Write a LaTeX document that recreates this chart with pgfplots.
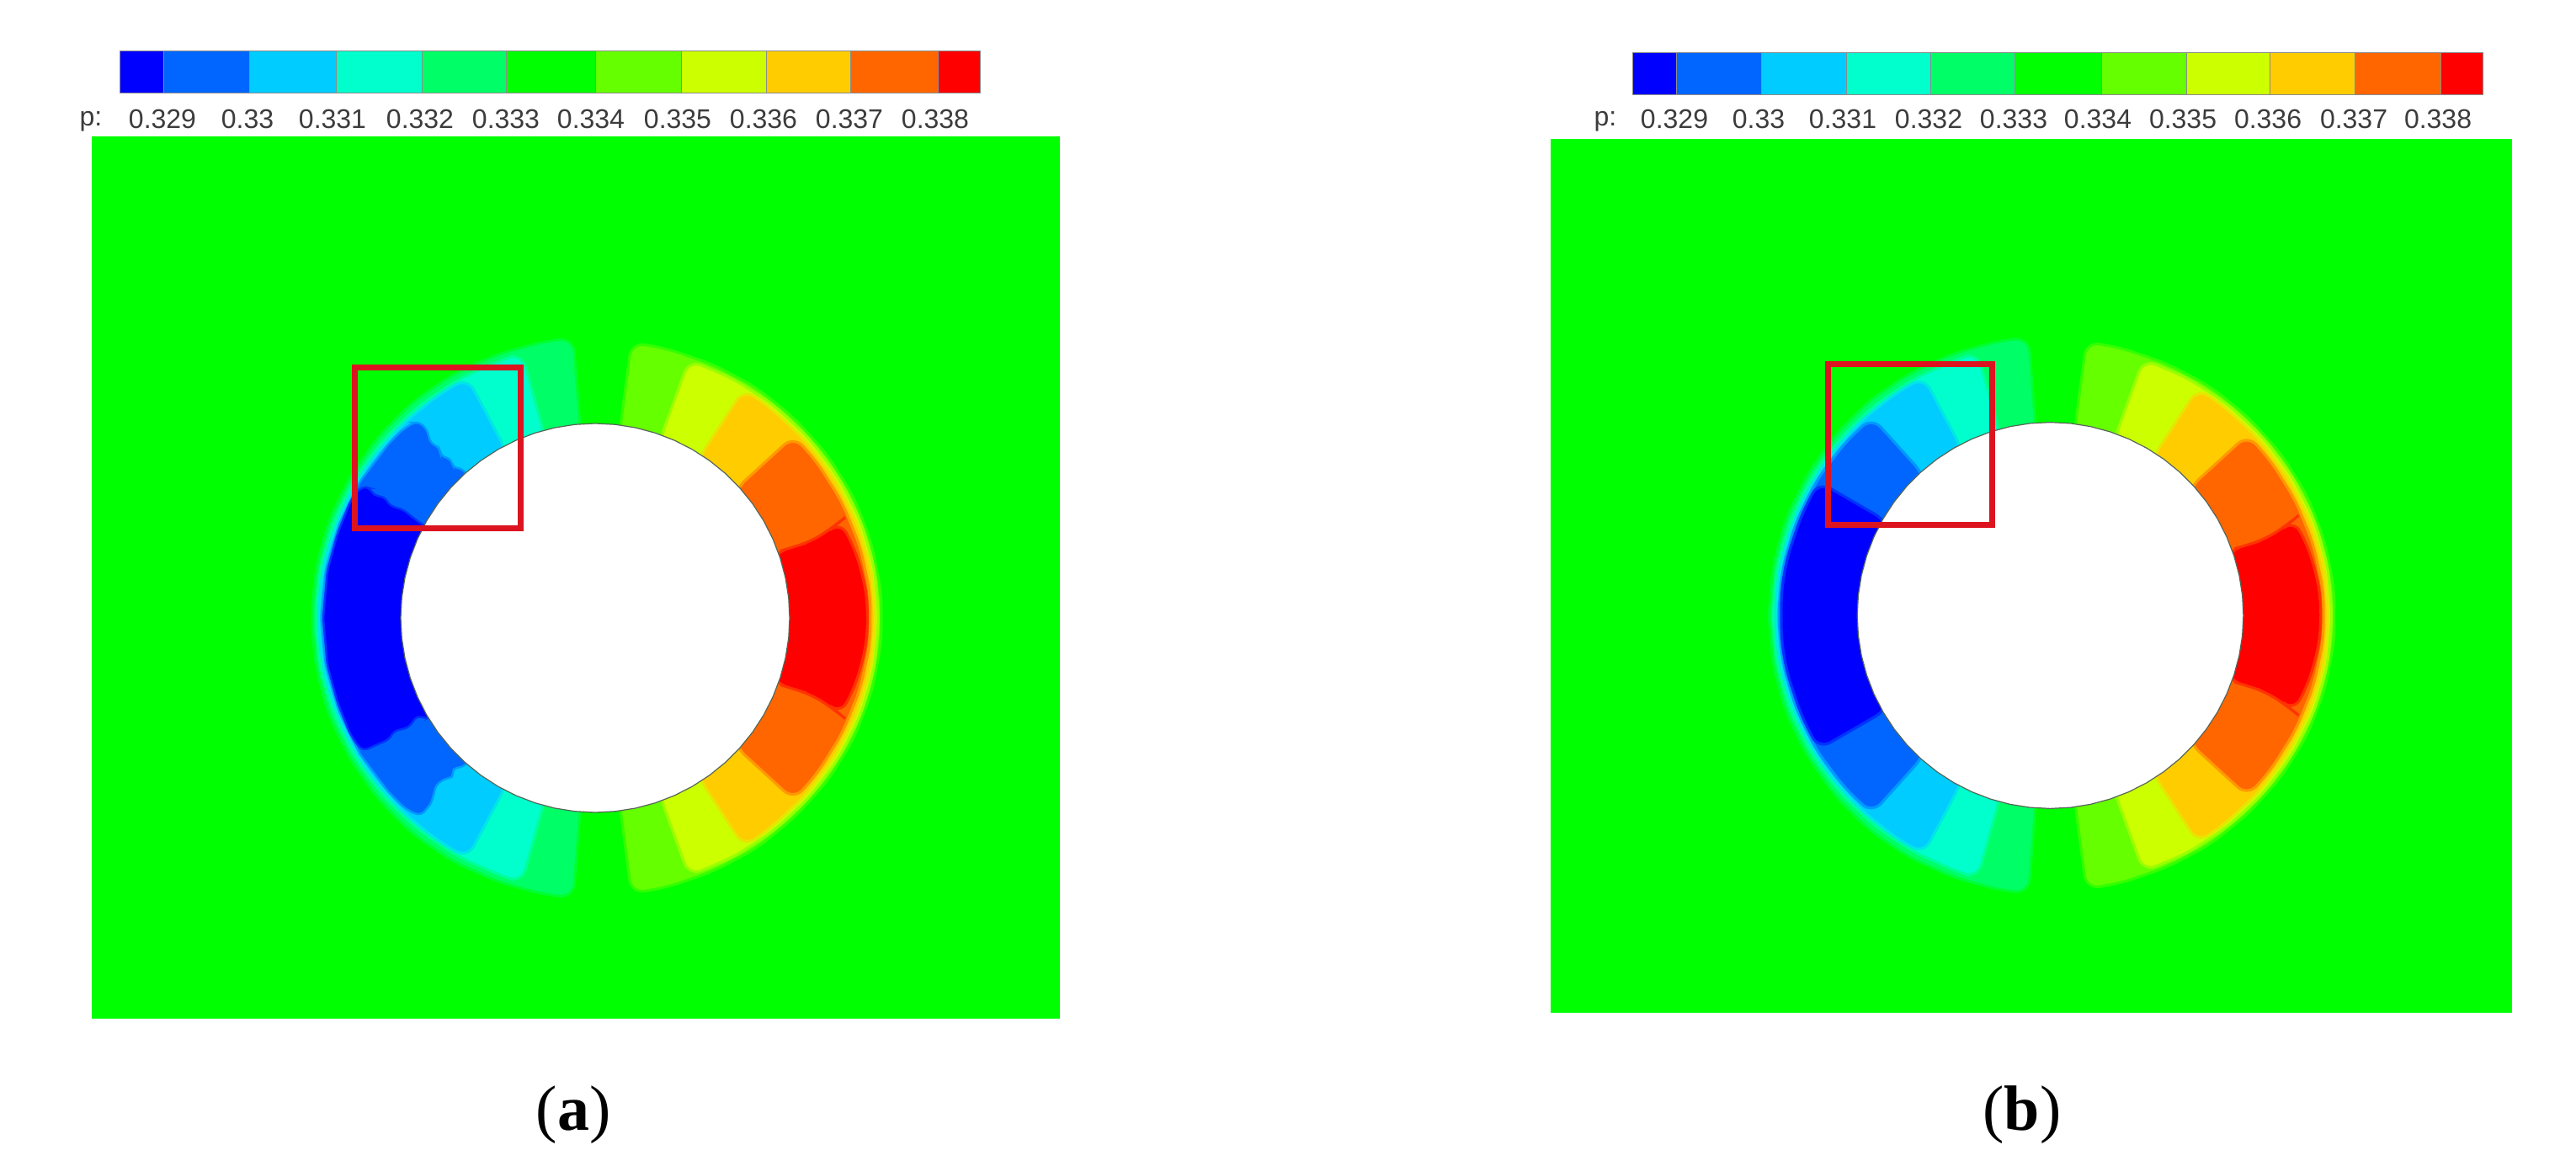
\documentclass[border=0pt]{standalone}
\usepackage{fontspec}
\setmainfont{Liberation Sans}
\newfontfamily\capfont{Liberation Serif}
\usepackage{pgfplots}
\usepackage{pgfplotstable}
\pgfplotsset{compat=1.18}
\usepgfplotslibrary{polar}
\definecolor{c0}{HTML}{0000FF}
\definecolor{c1}{HTML}{0066FF}
\definecolor{c2}{HTML}{00CCFF}
\definecolor{c3}{HTML}{00FFCC}
\definecolor{c4}{HTML}{00FF66}
\definecolor{c5}{HTML}{00FF00}
\definecolor{c6}{HTML}{66FF00}
\definecolor{c7}{HTML}{CCFF00}
\definecolor{c8}{HTML}{FFCC00}
\definecolor{c9}{HTML}{FF6600}
\definecolor{c10}{HTML}{FF0000}
\definecolor{redbox}{HTML}{DC1420}
\definecolor{rim}{HTML}{566656}
\definecolor{lab}{HTML}{3C3C3C}
\pgfplotsset{
  page/.style={at={(0pt,0pt)},anchor=south west,width=765pt,height=346pt,scale only axis,hide axis},
  pix/.style={page,xmin=0,xmax=3060,ymin=0,ymax=1384,y dir=reverse},
  lev/.style 2 args={data cs=polar,fill=#1,draw=#1!50!#2,line width=0.8pt,rounded corners=4pt},
  jag/.style 2 args={data cs=polar,fill=#1,draw=#1!50!#2,line width=0.6pt,rounded corners=1.2pt},
  bar/.style={fill=#1,draw=black!45,line width=0.25pt}
}
\tikzset{num/.style={font=\fontsize{8}{8}\selectfont,text=lab,inner sep=0pt,anchor=center}}
% ---- nested contour regions: t = polar angle (deg), r = radius (px)
\pgfplotstableread[row sep=\\]{t r\\ 94.5 225\\ 94.5 333\\ 100 334\\ 110 334\\ 120 335\\ 130 336\\ 140 336\\ 150 336\\ 160 337\\ 170 337\\ 180 337\\ 190 337\\ 200 337\\ 210 336\\ 220 336\\ 230 336\\ 240 335\\ 250 334\\ 260 334\\ 265.5 333\\ 265.5 225\\}\Lzero
\pgfplotstableread[row sep=\\]{t r\\ 105.5 225\\ 105.5 326\\ 110 326\\ 120 327\\ 130 328\\ 140 329\\ 150 330\\ 160 331\\ 170 332\\ 180 332\\ 190 332\\ 200 331\\ 210 330\\ 220 329\\ 230 328\\ 240 327\\ 250 326\\ 254.5 326\\ 254.5 225\\}\Lone
\pgfplotstableread[row sep=\\]{t r\\ 118 225\\ 118 323\\ 125 324\\ 135 325\\ 145 326\\ 155 327\\ 165 328\\ 172 329\\ 180 329\\ 188 329\\ 195 328\\ 205 327\\ 215 326\\ 225 325\\ 235 324\\ 242 323\\ 242 225\\}\Ltwo
\pgfplotstableread[row sep=\\]{t r\\ 132 225\\ 132 319\\ 140 321\\ 150 323\\ 160 324\\ 170 325\\ 180 325.5\\ 190 325\\ 200 324\\ 210 323\\ 220 321\\ 228 319\\ 228 225\\}\Lthree
\pgfplotstableread[row sep=\\]{t r\\ 150 225\\ 150 320\\ 158 321\\ 168 322.5\\ 175 323\\ 185 323\\ 192 322.5\\ 202 321\\ 210 320\\ 210 225\\}\Lfour
% jagged versions of panel (a)
\pgfplotstableread[row sep=\\]{t r\\ 131.8 225\\ 131.8 238\\ 133.4 246\\ 132.3 254\\ 133.6 267\\ 132.5 273\\ 133.2 286\\ 131.8 300\\ 131.9 312\\ 133 317\\ 136 320\\ 140 321\\ 150 323\\ 160 324\\ 170 325\\ 180 325.5\\ 190 325\\ 200 324\\ 210 323\\ 220 321\\ 224.5 320\\ 227 317\\ 228.6 312\\ 228.5 294\\ 226.4 274\\ 226.8 263\\ 228.3 253\\ 226.6 247\\ 228.5 235\\ 228.5 225\\}\Lthreea
\pgfplotstableread[row sep=\\]{t r\\ 151.5 225\\ 151.6 235\\ 150.6 262\\ 151.3 277\\ 150.2 289\\ 151 300\\ 150.1 309\\ 150.4 316\\ 152 320.5\\ 155 322\\ 162 322\\ 170 323\\ 180 323\\ 190 323\\ 198 322\\ 205 322\\ 208 320.5\\ 209.8 317\\ 210.5 285\\ 209.4 274\\ 210.4 257\\ 208.8 241\\ 210.8 234\\ 211 225\\}\Lfoura
% right side
\pgfplotstableread[row sep=\\]{t r\\ 82.5 225\\ 82.5 330\\ 75 331\\ 65 332\\ 55 334\\ 45 335\\ 35 337\\ 25 339\\ 15 340\\ 5 341\\ -5 341\\ -15 340\\ -25 339\\ -35 337\\ -45 335\\ -55 334\\ -65 332\\ -75 331\\ -82.5 330\\ -82.5 225\\}\Rzero
\pgfplotstableread[row sep=\\]{t r\\ 70 225\\ 70 326\\ 60 328\\ 50 330\\ 40 332\\ 30 334\\ 20 336\\ 10 337\\ 0 337\\ -10 337\\ -20 336\\ -30 334\\ -40 332\\ -50 330\\ -60 328\\ -70 326\\ -70 225\\}\Rone
\pgfplotstableread[row sep=\\]{t r\\ 57 225\\ 57 324\\ 50 325\\ 40 327\\ 30 329\\ 20 331\\ 10 333\\ 0 333\\ -10 333\\ -20 331\\ -30 329\\ -40 327\\ -50 325\\ -57 324\\ -57 225\\}\Rtwo
\pgfplotstableread[row sep=\\]{t r\\ 42.5 225\\ 42.5 320\\ 35 322\\ 25 324\\ 15 326\\ 5 328\\ -5 328\\ -15 326\\ -25 324\\ -35 322\\ -42.5 320\\ -42.5 225\\}\Rthree
\pgfplotstableread[row sep=\\]{t r\\ 20 225\\ 19.7 250\\ 19.5 273\\ 21 305\\ 21.5 313\\ 15 319\\ 8 322.5\\ 3 324\\ -3 324\\ -8 322.5\\ -15 319\\ -21.5 313\\ -21 305\\ -19.5 273\\ -19.7 250\\ -20 225\\}\Rfour
\pgfplotstableread[row sep=\\]{t r\\ 0 231\\ 6 231\\ 12 231\\ 18 231\\ 24 231\\ 30 231\\ 36 231\\ 42 231\\ 48 231\\ 54 231\\ 60 231\\ 66 231\\ 72 231\\ 78 231\\ 84 231\\ 90 231\\ 96 231\\ 102 231\\ 108 231\\ 114 231\\ 120 231\\ 126 231\\ 132 231\\ 138 231\\ 144 231\\ 150 231\\ 156 231\\ 162 231\\ 168 231\\ 174 231\\ 180 231\\ 186 231\\ 192 231\\ 198 231\\ 204 231\\ 210 231\\ 216 231\\ 222 231\\ 228 231\\ 234 231\\ 240 231\\ 246 231\\ 252 231\\ 258 231\\ 264 231\\ 270 231\\ 276 231\\ 282 231\\ 288 231\\ 294 231\\ 300 231\\ 306 231\\ 312 231\\ 318 231\\ 324 231\\ 330 231\\ 336 231\\ 342 231\\ 348 231\\ 354 231\\}\Disc
\begin{document}
\begin{tikzpicture}
% plates, colour bars and text (pixel coordinates)
\begin{axis}[pix]
\addplot[fill=white,draw=none] coordinates {(0,0)(3060,0)(3060,1384)(0,1384)} --cycle;
\addplot[fill=c5,draw=none] coordinates {(109,162)(1259,162)(1259,1210)(109,1210)} --cycle;
\addplot[fill=c5,draw=none] coordinates {(1842,165)(2984,165)(2984,1203)(1842,1203)} --cycle;
% bar (a)
\addplot[bar=c0] coordinates {(142,60)(194,60)(194,110)(142,110)} --cycle;
\addplot[bar=c1] coordinates {(194,60)(296,60)(296,110)(194,110)} --cycle;
\addplot[bar=c2] coordinates {(296,60)(399,60)(399,110)(296,110)} --cycle;
\addplot[bar=c3] coordinates {(399,60)(501,60)(501,110)(399,110)} --cycle;
\addplot[bar=c4] coordinates {(501,60)(601,60)(601,110)(501,110)} --cycle;
\addplot[bar=c5] coordinates {(601,60)(707,60)(707,110)(601,110)} --cycle;
\addplot[bar=c6] coordinates {(707,60)(809,60)(809,110)(707,110)} --cycle;
\addplot[bar=c7] coordinates {(809,60)(910,60)(910,110)(809,110)} --cycle;
\addplot[bar=c8] coordinates {(910,60)(1010,60)(1010,110)(910,110)} --cycle;
\addplot[bar=c9] coordinates {(1010,60)(1114,60)(1114,110)(1010,110)} --cycle;
\addplot[bar=c10] coordinates {(1114,60)(1164,60)(1164,110)(1114,110)} --cycle;
% bar (b)
\addplot[bar=c0] coordinates {(1939,62)(1991,62)(1991,112)(1939,112)} --cycle;
\addplot[bar=c1] coordinates {(1991,62)(2092,62)(2092,112)(1991,112)} --cycle;
\addplot[bar=c2] coordinates {(2092,62)(2193,62)(2193,112)(2092,112)} --cycle;
\addplot[bar=c3] coordinates {(2193,62)(2293,62)(2293,112)(2193,112)} --cycle;
\addplot[bar=c4] coordinates {(2293,62)(2393,62)(2393,112)(2293,112)} --cycle;
\addplot[bar=c5] coordinates {(2393,62)(2496,62)(2496,112)(2393,112)} --cycle;
\addplot[bar=c6] coordinates {(2496,62)(2597,62)(2597,112)(2496,112)} --cycle;
\addplot[bar=c7] coordinates {(2597,62)(2696,62)(2696,112)(2597,112)} --cycle;
\addplot[bar=c8] coordinates {(2696,62)(2797,62)(2797,112)(2696,112)} --cycle;
\addplot[bar=c9] coordinates {(2797,62)(2899,62)(2899,112)(2797,112)} --cycle;
\addplot[bar=c10] coordinates {(2899,62)(2949,62)(2949,112)(2899,112)} --cycle;
% labels (a)
\node[num] at (axis cs:108,144) {p:};
\node[num] at (axis cs:193,141) {0.329};
\node[num] at (axis cs:294,141) {0.33};
\node[num] at (axis cs:395,141) {0.331};
\node[num] at (axis cs:499,141) {0.332};
\node[num] at (axis cs:601,141) {0.333};
\node[num] at (axis cs:702,141) {0.334};
\node[num] at (axis cs:805,141) {0.335};
\node[num] at (axis cs:907,141) {0.336};
\node[num] at (axis cs:1009,141) {0.337};
\node[num] at (axis cs:1111,141) {0.338};
% labels (b)
\node[num] at (axis cs:1907,144) {p:};
\node[num] at (axis cs:1989,141) {0.329};
\node[num] at (axis cs:2089,141) {0.33};
\node[num] at (axis cs:2189,141) {0.331};
\node[num] at (axis cs:2291,141) {0.332};
\node[num] at (axis cs:2392,141) {0.333};
\node[num] at (axis cs:2492,141) {0.334};
\node[num] at (axis cs:2593,141) {0.335};
\node[num] at (axis cs:2694,141) {0.336};
\node[num] at (axis cs:2796,141) {0.337};
\node[num] at (axis cs:2896,141) {0.338};
\node[font=\capfont\fontsize{19}{19}\selectfont,inner sep=0pt] at (axis cs:681,1324) {(\textbf{a})};
\node[font=\capfont\fontsize{19}{19}\selectfont,inner sep=0pt] at (axis cs:2402,1324) {(\textbf{b})};
\end{axis}
% panel (a): origin at cylinder centre
\begin{axis}[page,xmin=-707,xmax=2353,ymin=-650,ymax=734]
\addplot[lev={c4}{c5}] table[x=t,y=r]{\Lzero} --cycle;
\addplot[lev={c3}{c4}] table[x=t,y=r]{\Lone} --cycle;
\addplot[lev={c2}{c3}] table[x=t,y=r]{\Ltwo} --cycle;
\addplot[jag={c1}{c2}] table[x=t,y=r]{\Lthreea} --cycle;
\addplot[jag={c0}{c1}] table[x=t,y=r]{\Lfoura} --cycle;
\addplot[lev={c6}{c5}] table[x=t,y=r]{\Rzero} --cycle;
\addplot[lev={c7}{c6}] table[x=t,y=r]{\Rone} --cycle;
\addplot[lev={c8}{c7}] table[x=t,y=r]{\Rtwo} --cycle;
\addplot[lev={c9}{c8}] table[x=t,y=r]{\Rthree} --cycle;
\addplot[lev={c10}{c9}] table[x=t,y=r]{\Rfour} --cycle;
\addplot[data cs=polar,fill=white,draw=rim,line width=0.3pt] table[x=t,y=r]{\Disc} --cycle;
\end{axis}
% panel (b): origin at cylinder centre, 0.993 px per unit
\begin{axis}[page,xmin=-2452.7,xmax=628.9,ymin=-657.6,ymax=736.2]
\addplot[lev={c4}{c5}] table[x=t,y=r]{\Lzero} --cycle;
\addplot[lev={c3}{c4}] table[x=t,y=r]{\Lone} --cycle;
\addplot[lev={c2}{c3}] table[x=t,y=r]{\Ltwo} --cycle;
\addplot[lev={c1}{c2}] table[x=t,y=r]{\Lthree} --cycle;
\addplot[lev={c0}{c1}] table[x=t,y=r]{\Lfour} --cycle;
\addplot[lev={c6}{c5}] table[x=t,y=r]{\Rzero} --cycle;
\addplot[lev={c7}{c6}] table[x=t,y=r]{\Rone} --cycle;
\addplot[lev={c8}{c7}] table[x=t,y=r]{\Rtwo} --cycle;
\addplot[lev={c9}{c8}] table[x=t,y=r]{\Rthree} --cycle;
\addplot[lev={c10}{c9}] table[x=t,y=r]{\Rfour} --cycle;
\addplot[data cs=polar,fill=white,draw=rim,line width=0.3pt] table[x=t,y=r]{\Disc} --cycle;
\end{axis}
% red boxes
\begin{axis}[pix]
\addplot[draw=redbox,line width=1.75pt] coordinates {(421,436)(618,436)(618,627)(421,627)} --cycle;
\addplot[draw=redbox,line width=1.75pt] coordinates {(2171,432)(2366,432)(2366,623)(2171,623)} --cycle;
\end{axis}
\end{tikzpicture}
\end{document}
